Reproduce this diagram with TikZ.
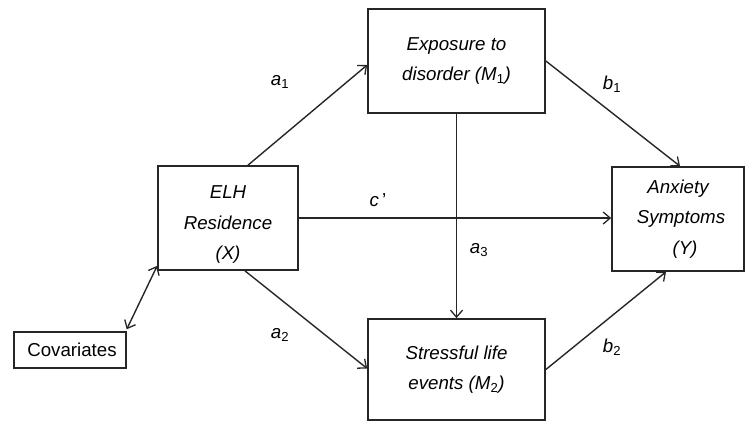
\documentclass[tikz,border=0pt]{standalone}
\usepackage{fontspec}
\setmainfont{Liberation Sans}
\usetikzlibrary{arrows.meta}
\begin{document}
\begin{tikzpicture}[x=1pt,y=1pt,
  box/.style={draw=black!85,line width=1.7pt,rectangle,inner sep=0pt,align=center,
    font=\fontsize{18.7}{30.5}\selectfont\itshape},
  conn/.style={draw=black!85,line width=1.4pt,-{Straight Barb[length=7pt,width=12pt,line width=1.3pt]}},
  dconn/.style={draw=black!85,line width=1.4pt,{Straight Barb[length=7pt,width=12pt,line width=1.3pt]}-{Straight Barb[length=7pt,width=12pt,line width=1.3pt]}},
  lab/.style={inner sep=0pt,font=\fontsize{18.7}{22}\selectfont}]
\useasboundingbox (0,0) rectangle (746,-424);
\node[box,minimum width=140pt,minimum height=104pt] (X) at (228,-218) {\rule{0pt}{26pt}ELH\\Residence\\(\textit{X})};
\node[box,minimum width=177pt,minimum height=104pt] (M1) at (456.5,-61) {Exposure to\\disorder (\textit{M}\textsubscript{\upshape 1})};
\node[box,minimum width=177pt,minimum height=101pt] (M2) at (456.5,-369.5) {Stressful life\\events (\textit{M}\textsubscript{\upshape 2})};
\node[box,minimum width=132pt,minimum height=104pt] (Y) at (678,-219) {Anxiety\\\hspace*{6pt}Symptoms\\\hspace*{14pt}(\textit{Y})};
\node[box,line width=1.4pt,font=\fontsize{18.7}{22}\selectfont\upshape,minimum width=112pt,minimum height=36pt] (C) at (70,-350) {\hspace*{4pt}Covariates};
\draw[conn] ([xshift=20pt]X.north) -- ([yshift=-4pt]M1.west);
\draw[conn] (M1.east) -- ([xshift=2pt]Y.north);
\draw[conn] ([xshift=17pt]X.south) -- ([yshift=1pt]M2.west);
\draw[conn] (M2.east) -- ([xshift=-12pt]Y.south);
\draw[conn] (X.east) -- (X.east -| Y.west);
\draw[conn] (M1.south) -- (M2.north);
\draw[dconn] ([yshift=2pt]C.north east) -- ([yshift=5pt]X.south west);
\node[lab] (la1) at (280,-82) {\textit{a}\textsubscript{1}};
\node[lab] (lb1) at (612,-84) {\textit{b}\textsubscript{1}};
\node[lab] (la2) at (280,-335) {\textit{a}\textsubscript{2}};
\node[lab] (lb2) at (612,-347) {\textit{b}\textsubscript{2}};
\node[lab] (lc) at (378,-200) {\textit{c}\,’};
\node[lab] (la3) at (479,-250) {\textit{a}\textsubscript{3}};
\end{tikzpicture}
\end{document}
